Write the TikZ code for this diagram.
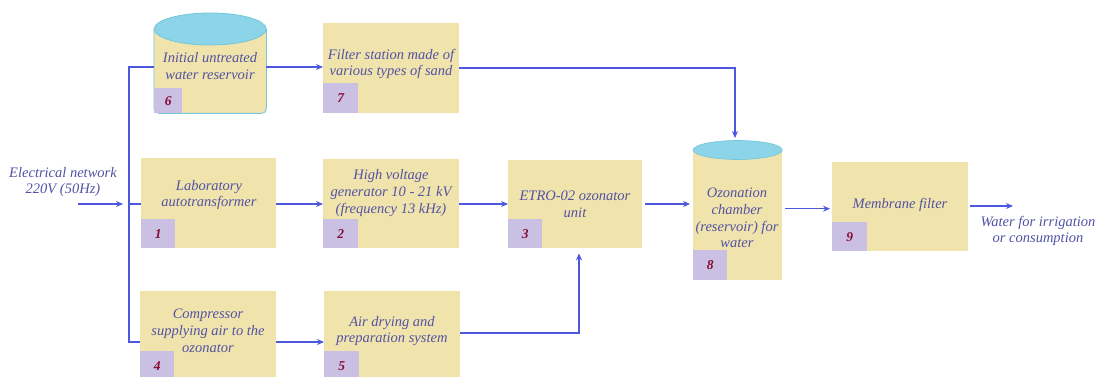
\documentclass[tikz,border=0pt]{standalone}
\usepackage{fontspec}
\setmainfont{Liberation Serif}
\usetikzlibrary{arrows.meta}
\definecolor{boxfill}{RGB}{240,228,172}
\definecolor{numfill}{RGB}{202,192,228}
\definecolor{txt}{RGB}{82,82,165}
\definecolor{numtxt}{RGB}{135,10,50}
\definecolor{linec}{RGB}{78,88,222}
\definecolor{captop}{RGB}{140,212,232}
\definecolor{capedge}{RGB}{115,198,218}
\begin{document}
\begin{tikzpicture}[x=1pt,y=-1pt,
 box/.style={fill=boxfill, draw=none, inner sep=0pt, anchor=north west},
 lbl/.style={text=txt, font=\fontsize{14.5}{16.8}\selectfont\itshape, align=center, inner sep=0pt},
 num/.style={fill=numfill, inner sep=0pt, anchor=south west, text=numtxt, font=\fontsize{13.5}{15}\selectfont\bfseries\itshape},
 conn/.style={draw=linec, line width=1.1pt},
 arr/.style={conn, -{Stealth[length=7pt,width=6pt]}}]
\clip (0,0) rectangle (1100,377);
\fill[white] (0,0) rectangle (1100,377);

% cylinder 6
\node[box, minimum width=112pt, minimum height=84pt] (b6) at (154,29) {};
\draw[capedge, line width=0.8pt, rounded corners=5pt] (b6.north west) -- (b6.south west) -- (b6.south east) -- (b6.north east);
\node[num, minimum width=28pt, minimum height=25pt] (n6) at (b6.south west) {6};
\draw[capedge, line width=0.8pt, fill=captop] (b6.north) ellipse [x radius=56, y radius=16];
\node[lbl] (t6) at (210,66) {Initial untreated\\water reservoir};

% box 7
\node[box, minimum width=136pt, minimum height=90pt] (b7) at (323,23) {};
\node[num, minimum width=35pt, minimum height=30pt] (n7) at (b7.south west) {7};
\node[lbl] (t7) at (391,64) {Filter station made of\\various types of sand};

% box 1
\node[box, minimum width=135pt, minimum height=90pt] (b1) at (141,158) {};
\node[num, minimum width=34pt, minimum height=29pt] (n1) at (b1.south west) {1};
\node[lbl] (t1) at (209,195) {Laboratory\\autotransformer};

% box 2
\node[box, minimum width=136pt, minimum height=89pt] (b2) at (323,159) {};
\node[num, minimum width=35pt, minimum height=29pt] (n2) at (b2.south west) {2};
\node[lbl] (t2) at (391,193) {High voltage\\generator 10 - 21 kV\\(frequency 13 kHz)};

% box 3
\node[box, minimum width=134pt, minimum height=88pt] (b3) at (508,160) {};
\node[num, minimum width=34pt, minimum height=29pt] (n3) at (b3.south west) {3};
\node[lbl] (t3) at (575,204) {ETRO-02 ozonator\\unit};

% cylinder 8
\node[box, minimum width=89pt, minimum height=130pt] (b8) at (693,150) {};
\node[num, minimum width=34pt, minimum height=30pt] (n8) at (b8.south west) {8};
\draw[capedge, line width=0.6pt, fill=captop] (b8.north) ellipse [x radius=44.5, y radius=9.5];
\node[lbl] (t8) at (737,218) {Ozonation\\chamber\\(reservoir) for\\water};

% box 9
\node[box, minimum width=136pt, minimum height=89pt] (b9) at (832,162) {};
\node[num, minimum width=35pt, minimum height=29pt] (n9) at (b9.south west) {9};
\node[lbl] (t9) at (900,205) {Membrane filter};

% box 4
\node[box, minimum width=136pt, minimum height=90pt] (b4) at (140,291) {};
\node[num, minimum width=34pt, minimum height=30pt] (n4) at (b4.south west) {4};
\node[lbl] (t4) at (208,331) {Compressor\\supplying air to the\\ozonator};

% box 5
\node[box, minimum width=136pt, minimum height=90pt] (b5) at (324,291) {};
\node[num, minimum width=35pt, minimum height=30pt] (n5) at (b5.south west) {5};
\node[lbl] (t5) at (392,331) {Air drying and\\preparation system};

% external labels
\node[lbl] (src) at (63,182) {Electrical network\\220V (50Hz)};
\node[lbl] (dst) at (1038,231) {Water for irrigation\\or consumption};

% coordinates
\coordinate (srcend) at (78,204);
\coordinate (bm) at (129,204);
\coordinate (bt) at (129,67);
\coordinate (bb) at (129,342);
\coordinate (j) at (579,333);
\coordinate (fy) at (735,68);
\coordinate (out) at (1013,206);

% connectors
\draw[arr] (srcend) -- ([xshift=-6pt]bm);
\draw[conn] (bm) -- (b1.west |- bm);
\draw[conn] (b6.west |- bt) -- (bt) -- (bb) -- (b4.west |- bb);
\draw[arr] (b6.east |- bt) -- (b7.west |- bt);
\draw[arr] (b7.east |- fy) -- (fy) -- ([yshift=12pt]fy |- b8.north);
\draw[arr] (b1.east |- bm) -- (b2.west |- bm);
\draw[arr] (b2.east |- bm) -- (b3.west |- bm);
\draw[arr, shorten <=3pt, shorten >=3pt] (b3.east |- bm) -- (b8.west |- bm);
\draw[arr, shorten <=3pt, shorten >=2pt] ([yshift=-2pt]b8.east |- b9.west) -- ([yshift=-2pt]b9.west);
\draw[arr, shorten <=2pt] (b9.east |- out) -- (out);
\draw[arr] (b4.east |- bb) -- (b5.west |- bb);
\draw[arr, shorten >=5pt] (b5.east |- j) -- (j) -- (j |- b3.south);
\end{tikzpicture}
\end{document}
